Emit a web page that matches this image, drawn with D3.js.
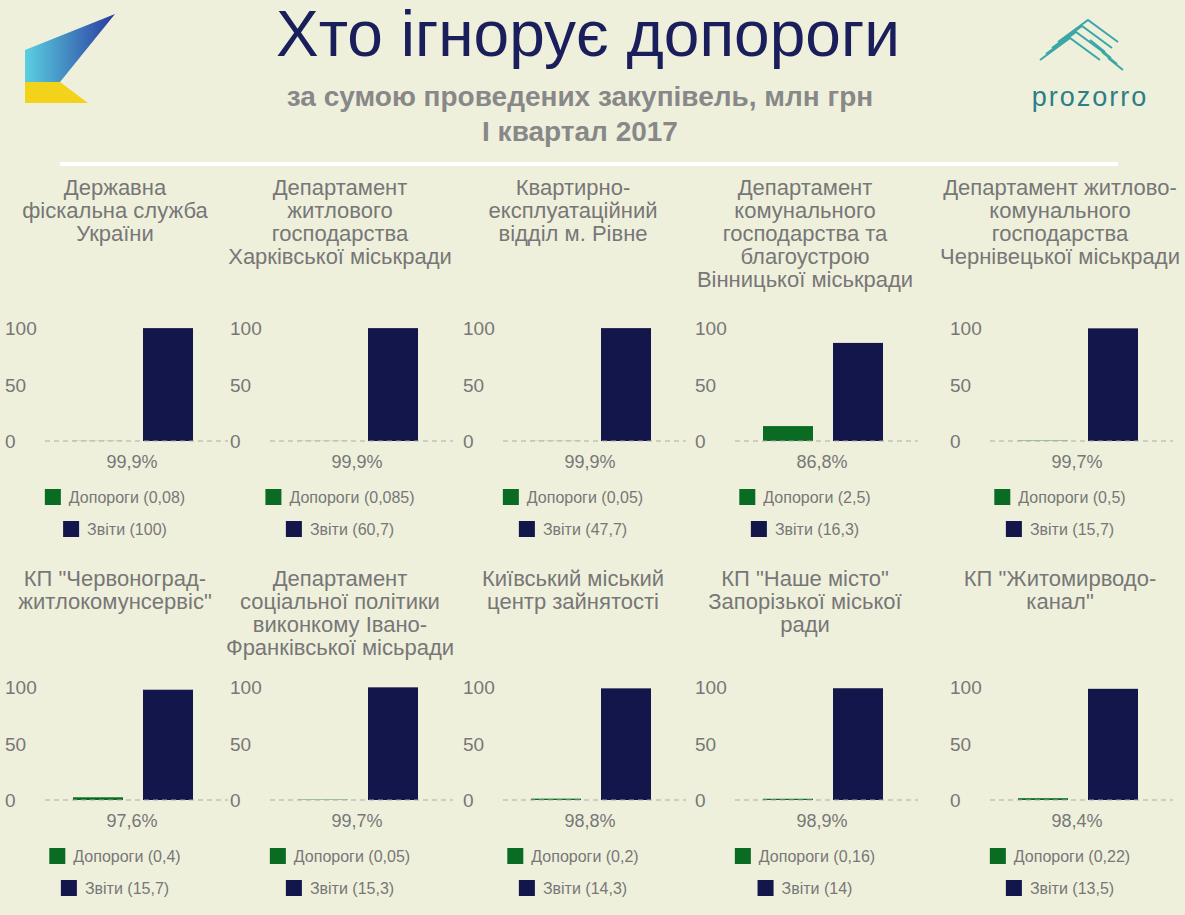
<!DOCTYPE html>
<html><head><meta charset="utf-8">
<script src="https://cdn.jsdelivr.net/npm/d3@7/dist/d3.min.js"></script>
<style>body{margin:0;background:#eff0dc;font-family:"Liberation Sans",Arial,sans-serif}</style>
</head><body>
<svg id="chart" width="1185" height="915"></svg>
<script>
// share of reports (Звіти) in total procurement amount, %
var titles = [
  ["Державна", "фіскальна служба", "України"],
  ["Департамент", "житлового", "господарства", "Харківської міськради"],
  ["Квартирно-", "експлуатаційний", "відділ м. Рівне"],
  ["Департамент", "комунального", "господарства та", "благоустрою", "Вінницької міськради"],
  ["Департамент житлово-", "комунального", "господарства", "Чернівецької міськради"],
  ["КП \"Червоноград-", "житлокомунсервіс\""],
  ["Департамент", "соціальної політики", "виконкому Івано-", "Франківської місьради"],
  ["Київський міський", "центр зайнятості"],
  ["КП \"Наше місто\"", "Запорізької міської", "ради"],
  ["КП \"Житомирводо-", "канал\""]
];
var reportShare = [99.9, 99.9, 99.9, 86.8, 99.7, 97.6, 99.7, 98.8, 98.9, 98.4];
var thresholdLabels = ["0,08", "0,085", "0,05", "2,5", "0,5", "0,4", "0,05", "0,2", "0,16", "0,22"];
var reportLabels = ["100", "60,7", "47,7", "16,3", "15,7", "15,7", "15,3", "14,3", "14", "13,5"];
var yTicks = [0, 50, 100];

var svg = d3.select("#chart");
var navy = "#12164a", green = "#0a6b23", grey = "#777";

// header
svg.append("text").attr("x", 588).attr("y", 56).attr("text-anchor", "middle")
  .attr("font-size", 64).attr("fill", "#1a1f5c").text("Хто ігнорує допороги");
svg.append("text").attr("x", 580).attr("y", 106).attr("text-anchor", "middle")
  .attr("font-size", 28).attr("font-weight", "bold").attr("fill", "#888").text("за сумою проведених закупівель, млн грн");
svg.append("text").attr("x", 580).attr("y", 141).attr("text-anchor", "middle")
  .attr("font-size", 28).attr("font-weight", "bold").attr("fill", "#888").text("I квартал 2017");
svg.append("line").attr("x1", 60).attr("x2", 1118).attr("y1", 164).attr("y2", 164)
  .attr("stroke", "#fff").attr("stroke-width", 4);

// left logo
var defs = svg.append("defs");
var lg = defs.append("linearGradient").attr("id", "lg").attr("x1", 0).attr("x2", 1).attr("y1", 0).attr("y2", 0);
lg.append("stop").attr("offset", 0).attr("stop-color", "#5ad0e0");
lg.append("stop").attr("offset", 1).attr("stop-color", "#2a3aa0");
svg.append("path").attr("d", "M25,50 L115,14 L60,82 L25,82 Z").attr("fill", "url(#lg)");
svg.append("path").attr("d", "M25,82 L60,82 L88,103 L25,103 Z").attr("fill", "#f2d21a");

// prozorro logo
var pz = svg.append("g").attr("stroke", "#3aa6a8").attr("stroke-width", 2).attr("fill", "none");
[0, 1, 2, 3].forEach(function (i) {
  pz.append("path").attr("d", "M" + (1040 + i * 6) + "," + (60 - i * 6) + " l30,-22 l30,22");
  pz.append("path").attr("d", "M" + (1090 + i * 6) + "," + (40 + i * 6) + " l15,12");
});
svg.append("text").attr("x", 1090).attr("y", 106).attr("text-anchor", "middle")
  .attr("font-size", 27).attr("letter-spacing", 2).attr("fill", "#2b7f86").text("prozorro");

var colX = [0, 225, 458, 690, 945];
var rowY = [0, 359];
var titleY = [195, 586];

reportShare.forEach(function (v, i) {
  var r = Math.floor(i / 5);
  var g = svg.append("g").attr("transform", "translate(" + colX[i % 5] + "," + rowY[r] + ")");
  var y = d3.scaleLinear().domain([0, 100]).range([441, 328]);
  var x = d3.scaleBand().domain(["t", "r"]).range([73, 193]).paddingInner(0.2857).paddingOuter(0);

  var t = g.append("text").attr("text-anchor", "middle").attr("font-size", 22).attr("fill", grey);
  titles[i].forEach(function (line, k) {
    t.append("tspan").attr("x", 115).attr("y", titleY[r] - rowY[r] + k * 23).text(line);
  });

  g.selectAll(".tick").data(yTicks).enter().append("text")
    .attr("x", 5).attr("y", function (d) { return y(d) + 7; })
    .attr("font-size", 19).attr("fill", grey).text(function (d) { return d; });

  var vals = [{k: "t", v: 100 - v, c: green}, {k: "r", v: v, c: navy}];
  g.selectAll("rect.bar").data(vals).enter().append("rect")
    .attr("x", function (d) { return x(d.k); }).attr("width", x.bandwidth())
    .attr("y", function (d) { return y(d.v); })
    .attr("height", function (d) { return y(0) - y(d.v); })
    .attr("fill", function (d) { return d.c; });

  g.append("line").attr("x1", 45).attr("x2", 228).attr("y1", y(0)).attr("y2", y(0))
    .attr("stroke", "#aaa").attr("stroke-dasharray", "5,4");

  g.append("text").attr("x", 132).attr("y", 468).attr("text-anchor", "middle")
    .attr("font-size", 18).attr("fill", grey).text(d3.format(".1f")(v).replace(".", ",") + "%");

  var leg = [
    {c: green, s: "Допороги (" + thresholdLabels[i] + ")", y: 497},
    {c: navy, s: "Звіти (" + reportLabels[i] + ")", y: 529}
  ];
  leg.forEach(function (l) {
    var lt = g.append("text").attr("y", l.y + 6).attr("font-size", 16).attr("fill", grey).text(l.s);
    var w = lt.node().getComputedTextLength();
    var x0 = 115 - (w + 24) / 2;
    lt.attr("x", x0 + 24);
    g.append("rect").attr("x", x0).attr("y", l.y - 8).attr("width", 16).attr("height", 16).attr("fill", l.c);
  });
});
</script>
</body></html>
